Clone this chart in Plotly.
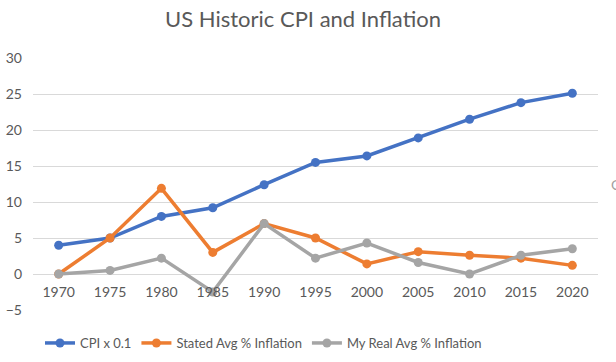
import plotly.graph_objects as go

years = ["1970", "1975", "1980", "1985", "1990", "1995", "2000", "2005", "2010", "2015", "2020"]
cpi_x01 = [4.0, 5.0, 8.0, 9.2, 12.4, 15.5, 16.4, 18.9, 21.5, 23.8, 25.1]
stated_inflation = [0.0, 5.0, 11.9, 3.0, 7.0, 5.0, 1.4, 3.1, 2.6, 2.2, 1.2]
real_inflation = [0.0, 0.5, 2.2, -2.5, 7.0, 2.2, 4.3, 1.6, 0.0, 2.6, 3.5]

series_names = ["CPI x 0.1", "Stated Avg % Inflation", "My Real Avg % Inflation"]
colors = ["#4472C4", "#ED7D31", "#A5A5A5"]

fig = go.Figure()
for name, vals, col in zip(series_names, [cpi_x01, stated_inflation, real_inflation], colors):
    fig.add_trace(go.Scatter(
        x=years, y=vals, name=name, mode="lines+markers",
        line=dict(color=col, width=3.5),
        marker=dict(color=col, size=9),
    ))

ymin, ymax = -5, 30
fig.update_layout(
    width=616, height=362,
    margin=dict(l=33, r=18, t=58, b=52, autoexpand=False),
    paper_bgcolor="white", plot_bgcolor="white",
    font=dict(family="Lato, Open Sans, sans-serif", color="#595959", size=13),
    title=dict(text="US Historic CPI and Inflation", x=303 / 616, xanchor="center",
               xref="container", y=1 - 19 / 362, yref="container", yanchor="middle",
               automargin=False,
               font=dict(size=22, color="#595959")),
    showlegend=True,
    legend=dict(orientation="h", x=(40 - 33) / 565, xanchor="left",
                y=1 - 343 / 362, yref="container", yanchor="middle",
                font=dict(size=13, color="#595959"),
                traceorder="normal"),
    xaxis=dict(
        type="category", showgrid=False, showline=False, zeroline=False,
        ticks="", anchor="free", position=(0 - ymin) / (ymax - ymin),
        ticklabelstandoff=8, tickfont=dict(size=14, color="#595959"),
        range=[-0.5, len(years) - 0.5], automargin=False,
    ),
    yaxis=dict(
        range=[ymin, ymax], dtick=5, showgrid=True, gridcolor="#D9D9D9",
        gridwidth=1, zeroline=False, showline=False, ticks="",
        ticklabelstandoff=10, tickfont=dict(size=14, color="#595959"),
        automargin=False,
    ),
    annotations=[dict(text="C", x=1.0, xref="paper", xshift=11, y=0.5, yref="paper",
                      showarrow=False, font=dict(size=14, color="#A0A0A0"),
                      xanchor="left")],
)

fig.write_html("out.html", config={"displayModeBar": False},
               post_script="document.body.style.margin='0';document.body.style.overflow='hidden';")
